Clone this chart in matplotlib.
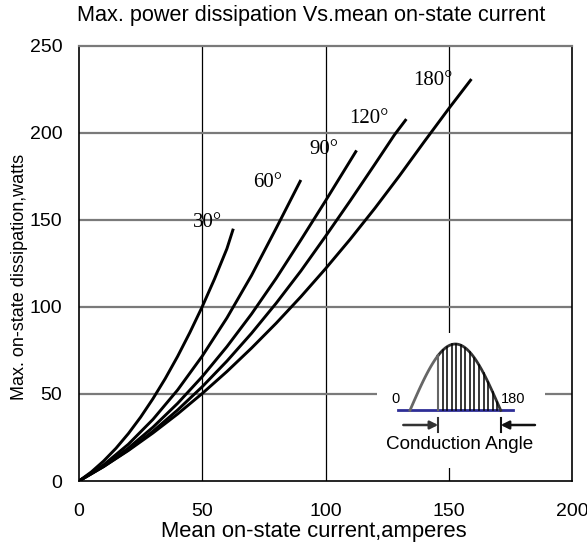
import numpy as np
import matplotlib
matplotlib.use("Agg")
import matplotlib.pyplot as plt

# ---- data ----
angles = ["30°", "60°", "90°", "120°", "180°"]
i_30 = [0, 5, 10, 15, 20, 25, 30, 35, 40, 45, 50, 55, 60, 62.6]
p_30 = [0, 5.2, 11.5, 18.8, 27.2, 36.7, 47.3, 58.9, 71.6, 85.4, 100.2, 116.2, 133.5, 145]
i_60 = [0, 10, 20, 30, 40, 50, 60, 70, 80, 90]
p_60 = [0, 9.3, 21.1, 35.4, 52.3, 71.8, 93.7, 118.2, 145.3, 173]
i_90 = [0, 10, 20, 30, 40, 50, 60, 70, 80, 90, 100, 110, 112.6]
p_90 = [0, 8.6, 18.9, 30.9, 44.6, 60, 77.2, 96, 116.5, 138.5, 161, 184, 190]
i_120 = [0, 10, 20, 30, 40, 50, 60, 70, 80, 90, 100, 110, 120, 128, 132.8]
p_120 = [0, 8.3, 17.8, 28.6, 40.8, 54.2, 68.9, 84.9, 102.2, 120.7, 140.6, 161, 182, 199, 208]
i_180 = [0, 10, 20, 30, 40, 50, 60, 70, 80, 90, 100, 110, 120, 130, 140, 150, 159.2]
p_180 = [0, 8.3, 17.5, 27.6, 38.5, 50.3, 62.9, 76.4, 90.7, 105.9, 122, 138.9, 156.7, 175.4, 194.9, 214, 231]
label_x = [52.3, 76.7, 99.4, 117.7, 143.6]
label_y = [148.3, 171.4, 190.6, 208.4, 230.0]

x_ticks = [0, 50, 100, 150, 200]
y_ticks = [0, 50, 100, 150, 200, 250]

W, H = 587, 544
fig = plt.figure(figsize=(W / 100, H / 100), dpi=100)
fig.patch.set_facecolor("white")

L, R, T, B = 79, 572, 46, 481
ax = fig.add_axes([L / W, 1 - B / H, (R - L) / W, (B - T) / H])
ax.set_xlim(0, 200)
ax.set_ylim(0, 250)

sans = ["Liberation Sans", "DejaVu Sans"]
serif = ["Liberation Serif", "DejaVu Serif"]

# grid
for v in x_ticks[1:-1]:
    ax.axvline(v, color="black", lw=0.9, zorder=1)
for v in y_ticks[1:-1]:
    ax.axhline(v, color="#7a7a7a", lw=1.6, zorder=1)

for s in ["left", "bottom", "right"]:
    ax.spines[s].set_color("black")
    ax.spines[s].set_linewidth(1.2)
ax.spines["top"].set_color("#7a7a7a")
ax.spines["top"].set_linewidth(1.6)

ax.set_xticks(x_ticks)
ax.set_yticks(y_ticks)
ax.tick_params(length=0, labelsize=14)
ax.tick_params(axis="x", pad=16)
ax.tick_params(axis="y", pad=12)
for lab in ax.get_xticklabels() + ax.get_yticklabels():
    lab.set_family(sans)

series = [(i_30, p_30), (i_60, p_60), (i_90, p_90), (i_120, p_120), (i_180, p_180)]
for (xs, ys) in series:
    ax.plot(xs, ys, color="black", lw=2.1, zorder=3, solid_capstyle="butt",
            solid_joinstyle="round")

for name, lx, ly in zip(angles, label_x, label_y):
    ax.text(lx, ly, name, family=serif, fontsize=15, ha="center", va="center", zorder=4)

fig.text(311.5 / W, 1 - 15 / H, "Max. power dissipation Vs.mean on-state current",
         family=sans, fontsize=15.6, ha="center", va="center")
fig.text(314 / W, 1 - 531 / H, "Mean on-state current,amperes",
         family=sans, fontsize=15.8, ha="center", va="center")
fig.text(20 / W, 1 - 277 / H, "Max. on-state dissipation,watts",
         family=sans, fontsize=13, ha="center", va="center", rotation=90)

# ---- inset schematic ----
iL, iR, iT, iB = 377, 545, 333, 468
ins = fig.add_axes([iL / W, 1 - iB / H, (iR - iL) / W, (iB - iT) / H])
ins.set_facecolor("white")
for s in ins.spines.values():
    s.set_visible(False)
ins.set_xticks([])
ins.set_yticks([])
px_per_deg = (500.7 - 410) / 180
amp = 410.3 - 344
ins.set_xlim((iL - 410) / px_per_deg, (iR - 410) / px_per_deg)
ins.set_ylim((410.3 - iB) / amp, (410.3 - iT) / amp)

cond_start = 56
th = np.linspace(0, 180, 200)
ins.plot([-23.4, 203.6], [0, 0], color="#2e2e96", lw=2.0, zorder=2)
th1 = th[th <= cond_start]
th2 = th[th >= cond_start]
ins.plot(th1, np.sin(np.radians(th1)), color="#666666", lw=2.0, zorder=3)
ins.plot(th2, np.sin(np.radians(th2)), color="#333333", lw=2.0, zorder=3)
ins.plot([cond_start, cond_start], [0, np.sin(np.radians(cond_start))], color="#666666", lw=1.5, zorder=3)
for a in np.arange(cond_start + 9, 180, 9):
    ins.plot([a, a], [0, np.sin(np.radians(a))], color="black", lw=1.1, zorder=3)

yarr = (410.3 - 425) / amp
ybar0, ybar1 = (410.3 - 418) / amp, (410.3 - 432) / amp
ins.annotate("", xy=(cond_start, yarr), xytext=(-13.3, yarr),
             arrowprops=dict(arrowstyle="-|>", color="#333333", lw=1.8, mutation_scale=12,
                             shrinkA=0, shrinkB=0))
ins.annotate("", xy=(180, yarr), xytext=(248, yarr),
             arrowprops=dict(arrowstyle="-|>", color="#111111", lw=1.8, mutation_scale=12,
                             shrinkA=0, shrinkB=0))
ins.plot([cond_start, cond_start], [ybar0, ybar1], color="#333333", lw=1.5)
ins.plot([180, 180], [ybar0, ybar1], color="#111111", lw=1.5)

ins.text(-27.8, 0.171, "0", family=sans, fontsize=10.5, ha="center", va="center")
ins.text(205, 0.171, "180", family=sans, fontsize=10.5, ha="center", va="center")
ins.text(99.2, -0.51, "Conduction Angle", family=sans, fontsize=13.6, ha="center", va="center")

fig.savefig("out.png", dpi=100)
